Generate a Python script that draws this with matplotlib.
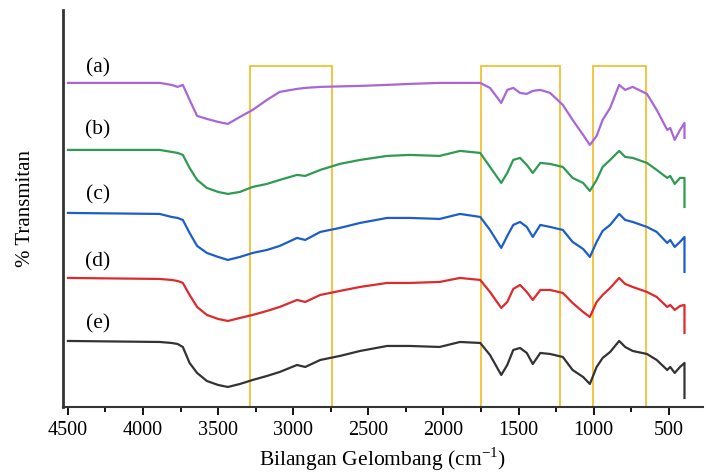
import numpy as np
import matplotlib.pyplot as plt
from matplotlib.patches import Rectangle

plt.rcParams['font.family'] = ['Liberation Serif', 'DejaVu Serif']

# wavenumber grid (cm-1) used for all spectra
wn = [4500, 3890, 3810, 3770, 3735, 3690, 3640, 3575, 3500, 3435, 3355, 3270,
      3175, 3090, 2975, 2920, 2820, 2690, 2555, 2375, 2225, 2025, 1890, 1755,
      1690, 1615, 1575, 1535, 1490, 1445, 1405, 1355, 1290, 1205, 1140, 1070,
      1025, 980, 940, 890, 830, 790, 740, 645, 580, 510, 490, 460, 425, 395, 395]

# depth below top of plot, last value = end spike
spec_a = [83, 83, 85, 87, 85, 100, 116, 119, 122, 124, 117, 110, 100, 92, 89, 88,
          87, 86.5, 86, 85, 84, 83, 83, 83, 88, 103, 90, 88, 93, 94, 91, 90, 93,
          105, 120, 135, 145, 136, 120, 108, 85, 90, 87, 94, 110, 130, 128, 140,
          130, 123, 138]
spec_b = [150, 150, 152, 153, 155, 168, 180, 188, 192, 194, 192, 187, 184, 180,
          175, 176, 170, 164, 160, 156, 155, 156, 151, 153, 167, 183, 173, 160,
          158, 165, 173, 163, 164, 167, 178, 183, 191, 180, 167, 160, 151, 157,
          158, 163, 170, 178, 176, 184, 178, 178, 207]
spec_c = [213, 214, 217, 218, 220, 233, 246, 253, 257, 260, 257, 253, 250, 246,
          238, 240, 232, 228, 223, 218, 218, 219, 214, 217, 230, 248, 236, 225,
          222, 227, 237, 225, 227, 230, 242, 249, 257, 242, 231, 225, 214, 220,
          222, 227, 232, 243, 240, 247, 242, 237, 272]
spec_d = [278, 279, 280, 281, 283, 295, 307, 315, 319, 321, 318, 315, 311, 307,
          300, 302, 295, 291, 287, 283, 283, 282, 278, 280, 292, 308, 302, 289,
          285, 292, 300, 290, 290, 293, 303, 312, 317, 302, 295, 288, 278, 284,
          287, 292, 297, 307, 305, 310, 306, 305, 333]
spec_e = [341, 342, 343, 344, 347, 363, 373, 381, 385, 387, 384, 380, 376, 372,
          365, 367, 360, 356, 351, 346, 346, 347, 342, 343, 355, 375, 365, 350,
          348, 353, 364, 353, 354, 357, 370, 377, 384, 367, 358, 352, 341, 347,
          351, 354, 360, 370, 367, 373, 367, 363, 398]

labels = ['(a)', '(b)', '(c)', '(d)', '(e)']
label_y = [339, 277, 212, 145, 83]
colors = ['#a866d6', '#2f9a52', '#1c5ec9', '#dd2a2e', '#333333']

# highlighted regions (cm-1)
boxes = [(3290, 2740), (1750, 1225), (1005, 650)]
box_top = 341

fig = plt.figure(figsize=(7.06, 4.75), dpi=100)
ax = fig.add_axes([0.0892, 0.1432, 0.9065, 0.836])

for spec, c in zip([spec_a, spec_b, spec_c, spec_d, spec_e], colors):
    t = 407 - np.array(spec)
    ax.plot(wn, t, color=c, lw=1.6)

for lab, y in zip(labels, label_y):
    ax.text(4300, y, lab, fontsize=15.5, ha='center', va='center')

for x1, x2 in boxes:
    ax.add_patch(Rectangle((x2, 0), x1 - x2, box_top, fill=False,
                           edgecolor='#f2c232', lw=1.3))

ax.set_xlim(4533, 272)
ax.set_ylim(0, 397)
ax.set_xticks(np.arange(500, 4501, 500))
ax.set_xticks(np.arange(750, 4500, 500), minor=True)
ax.set_yticks([])
ax.tick_params(axis='x', labelsize=14.5, length=6, width=1.3, direction='out', pad=4)
ax.tick_params(axis='x', which='minor', length=3.5, width=1.3)
ax.spines['top'].set_visible(False)
ax.spines['right'].set_visible(False)
ax.spines['left'].set_linewidth(2)
ax.spines['bottom'].set_linewidth(1.5)
ax.spines['left'].set_color('#333333')
ax.spines['bottom'].set_color('#333333')
ax.set_xlabel('Bilangan Gelombang (cm$^{\\mathregular{-1}}$)', fontsize=15.5, labelpad=4)
ax.set_ylabel('% Transmitan', fontsize=15, labelpad=20)

fig.savefig('out.png', dpi=100)
